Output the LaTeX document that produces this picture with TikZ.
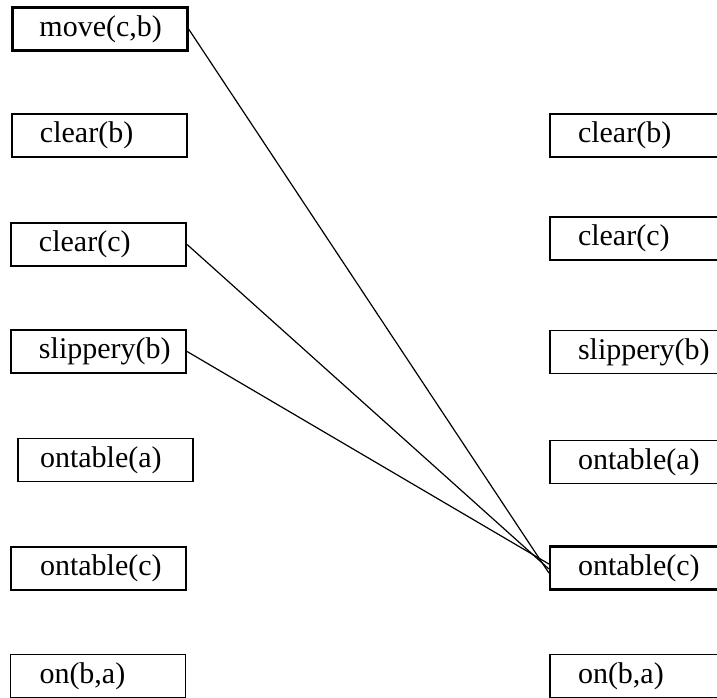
\documentclass[tikz,border=0pt]{standalone}
\usepackage{fontspec}
\setmainfont{Liberation Serif}
\newlength\factpad
\begin{document}
\begin{tikzpicture}[x=1pt,y=-1pt,
  fact/.style={draw=black,line width=1.2pt,rectangle,minimum height=43pt,
    text width=175pt,align=left,inner xsep=0pt,inner ysep=0pt,
    font=\fontsize{30}{34}\selectfont,
    execute at begin node={\hspace*{\factpad}}},
  pad/.code={\setlength\factpad{#1}},
  pad=28pt,
  keyfact/.style={fact,line width=2.2pt},
  link/.style={draw=black,line width=1.2pt}]
\useasboundingbox (0,0) rectangle (717,698);
\begin{scope}
\clip (0,0) rectangle (717,698);
% left column: text lines up at one x, boxes shift a little
\node[keyfact,pad=27pt] (lmove) at (100,29) {move(c,b)};
\node[fact,pad=28pt] (lclb) at (99.5,135.5) {clear(b)};
\node[keyfact,pad=28pt] (lclc) at (98.5,244.5) {clear(c)};
\node[keyfact,pad=28pt] (lslb) at (98.5,351.5) {slippery(b)};
\node[fact,pad=22pt] (lota) at (105.5,460) {ontable(a)};
\node[fact,pad=29pt] (lotc) at (98.5,568.5) {ontable(c)};
\node[fact,pad=29pt] (lonba) at (98,676) {on(b,a)};
% right column
\node[fact] (rclb) at (637.5,135.5) {clear(b)};
\node[fact] (rclc) at (637.5,238.5) {clear(c)};
\node[fact] (rslb) at (637.5,352) {slippery(b)};
\node[fact] (rota) at (637.5,462) {ontable(a)};
\node[keyfact] (rotc) at (637.5,568) {ontable(c)};
\node[fact] (ronba) at (637.5,676) {on(b,a)};
% links into ontable(c)
\draw[link] (lmove.east) -- ([yshift=-5pt]rotc.west);
\draw[link] (lclc.east) -- ([yshift=-1pt]rotc.west);
\draw[link] (lslb.east) -- ([yshift=4pt]rotc.west);
\end{scope}
\end{tikzpicture}
\end{document}
